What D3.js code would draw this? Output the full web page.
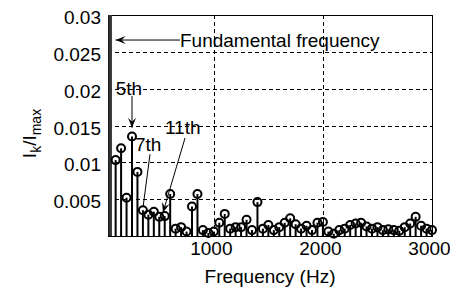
<!DOCTYPE html>
<html lang="en">
<head>
  <meta charset="UTF-8">
  <title>Harmonic spectrum</title>
  <script src="https://d3js.org/d3.v7.min.js"></script>
  <style>
    body { margin: 0; background: #fff; }
    text { font-family: "Liberation Sans", Arial, sans-serif; fill: #000; }
  </style>
</head>
<body>
<script>
  ((window, document) => {
    "use strict";

    /**
     * -------------------------------------------------------------------------
     *  Data
     * -------------------------------------------------------------------------
     */
    const FUNDAMENTAL_HZ = 50;
    // harmonic order 1 (fundamental) .. 60
    const ORDERS = d3.range(1, 61);
    const MAGNITUDES = [
      1,      0.0103, 0.0119, 0.0052, 0.0135, 0.0087, 0.0035, 0.0029, 0.0033, 0.0026,
      0.0027, 0.0057, 0.0010, 0.0012, 0.0006, 0.0040, 0.0057, 0.0008, 0.0004, 0.0006,
      0.0018, 0.0030, 0.0010, 0.0012, 0.0012, 0.0022, 0.0008, 0.0046, 0.0010, 0.0015,
      0.0008, 0.0012, 0.0018, 0.0024, 0.0016, 0.0010, 0.0014, 0.0008, 0.0018, 0.0019,
      0.0006, 0.0003, 0.0008, 0.0010, 0.0015, 0.0017, 0.0018, 0.0013, 0.0010, 0.0012,
      0.0008, 0.0009, 0.0008, 0.0007, 0.0012, 0.0017, 0.0026, 0.0014, 0.0010, 0.0008,
    ];
    const X_TICKS = [1000, 2000, 3000];
    const Y_TICKS = [0.005, 0.01, 0.015, 0.02, 0.025, 0.03];
    const Y_TICK_LABELS = ["0.005", "0.01", "0.015", "0.02", "0.025", "0.03"];

    // annotations, in data coordinates (Hz, magnitude)
    const NOTES = [
      { label: "Fundamental frequency", at: [690, 0.0266], from: [690, 0.0266], to: [100, 0.0266], head: true },
      { label: "5th", at: [100, 0.0201], from: [250, 0.0190], to: [250, 0.0147], head: true },
      { label: "7th", at: [277, 0.0124], from: [415, 0.0111], to: [352, 0.0040], head: false },
      { label: "11th", at: [552, 0.0148], from: [736, 0.0133], to: [534, 0.0032], head: true },
    ];


    /**
     * -------------------------------------------------------------------------
     *  Render
     * -------------------------------------------------------------------------
     */
    const W = 450, H = 292;
    const box = { left: 108, right: 432, top: 15, bottom: 236 };

    const x = d3.scaleLinear().domain([30, 3000]).range([box.left, box.right]);
    const y = d3.scaleLinear().domain([0, 0.03]).range([box.bottom, box.top]);

    const svg = d3.select("body").append("svg")
        .attr("width", W)
        .attr("height", H);

    svg.append("defs").append("clipPath").attr("id", "plot")
      .append("rect")
        .attr("x", box.left - 6)
        .attr("y", box.top)
        .attr("width", box.right - box.left + 12)
        .attr("height", box.bottom - box.top + 6);

    // grid
    const grid = svg.append("g")
        .attr("stroke", "#000")
        .attr("stroke-width", 1)
        .attr("stroke-dasharray", "4,3");
    grid.selectAll("line.gy").data(Y_TICKS).join("line")
        .attr("x1", box.left).attr("x2", box.right)
        .attr("y1", d => Math.round(y(d)) + 0.5)
        .attr("y2", d => Math.round(y(d)) + 0.5);
    grid.selectAll("line.gx").data(X_TICKS).join("line")
        .attr("y1", box.top).attr("y2", box.bottom)
        .attr("x1", d => Math.round(x(d)) + 0.5)
        .attr("x2", d => Math.round(x(d)) + 0.5);

    // axes
    const yAxis = svg.append("g")
        .attr("transform", `translate(${box.left},0)`)
        .call(d3.axisLeft(y).tickValues(Y_TICKS)
          .tickFormat((d, i) => Y_TICK_LABELS[i])
          .tickSizeInner(-4).tickSizeOuter(0).tickPadding(7));
    const xAxis = svg.append("g")
        .attr("transform", `translate(0,${box.bottom})`)
        .call(d3.axisBottom(x).tickValues(X_TICKS)
          .tickFormat(d3.format("d"))
          .tickSizeInner(-4).tickSizeOuter(0).tickPadding(6));
    [xAxis, yAxis].forEach(g => {
      g.select(".domain").remove();
      g.selectAll("text").style("font-size", "19px")
        .style("font-family", "\"Liberation Sans\", Arial, sans-serif");
    });
    yAxis.selectAll("text").attr("dy", "0.45em");
    xAxis.selectAll("text").attr("dx", "-3");

    svg.append("rect")
        .attr("x", box.left + 0.5).attr("y", box.top + 0.5)
        .attr("width", box.right - box.left).attr("height", box.bottom - box.top)
        .attr("fill", "none").attr("stroke", "#000");

    // stems
    const freq = ORDERS.map(h => h * FUNDAMENTAL_HZ);
    const plot = svg.append("g").attr("clip-path", "url(#plot)");
    plot.selectAll("line.stem").data(ORDERS).join("line")
        .attr("x1", (d, i) => x(freq[i])).attr("x2", (d, i) => x(freq[i]))
        .attr("y1", y(0))
        .attr("y2", (d, i) => Math.max(y(MAGNITUDES[i]), box.top - 10))
        .attr("stroke", (d, i) => i === 0 ? "#333" : "#000")
        .attr("stroke-width", (d, i) => i === 0 ? 3.5 : 2);
    plot.selectAll("circle").data(ORDERS).join("circle")
        .attr("cx", (d, i) => x(freq[i]))
        .attr("cy", (d, i) => y(MAGNITUDES[i]))
        .attr("r", 4)
        .attr("fill", "none")
        .attr("stroke", "#000")
        .attr("stroke-width", 2);

    // annotations
    const notes = svg.append("g");
    NOTES.forEach(n => {
      const [x1, y1] = [x(n.from[0]), y(n.from[1])];
      const [x2, y2] = [x(n.to[0]), y(n.to[1])];
      notes.append("line")
          .attr("x1", x1).attr("y1", y1).attr("x2", x2).attr("y2", y2)
          .attr("stroke", "#000").attr("stroke-width", 1);
      if (n.head) {
        const a = Math.atan2(y2 - y1, x2 - x1);
        const len = 10, wid = 4;
        const bx = x2 - len * Math.cos(a), by = y2 - len * Math.sin(a);
        const px = -Math.sin(a) * wid, py = Math.cos(a) * wid;
        notes.append("path")
            .attr("d", `M${x2},${y2}L${bx + px},${by + py}L${x2 - 6 * Math.cos(a)},${y2 - 6 * Math.sin(a)}L${bx - px},${by - py}Z`)
            .attr("fill", "#000");
      }
      notes.append("text")
          .attr("x", x(n.at[0]))
          .attr("y", y(n.at[1]))
          .attr("dy", "0.35em")
          .style("font-size", "19px")
          .text(n.label);
    });

    // labels
    svg.append("text")
        .attr("x", (box.left + box.right) / 2)
        .attr("y", 283)
        .attr("text-anchor", "middle")
        .style("font-size", "19px")
        .text("Frequency (Hz)");

    const ylab = svg.append("text")
        .attr("transform", `translate(36,${(box.top + box.bottom) / 2 + 8}) rotate(-90)`)
        .attr("text-anchor", "middle")
        .style("font-size", "19px");
    ylab.append("tspan").text("I");
    ylab.append("tspan").attr("dy", 5).style("font-size", "14px").text("k");
    ylab.append("tspan").attr("dy", -5).text("/I");
    ylab.append("tspan").attr("dy", 5).style("font-size", "14px").text("max");

  })(window, document);
</script>
</body>
</html>
